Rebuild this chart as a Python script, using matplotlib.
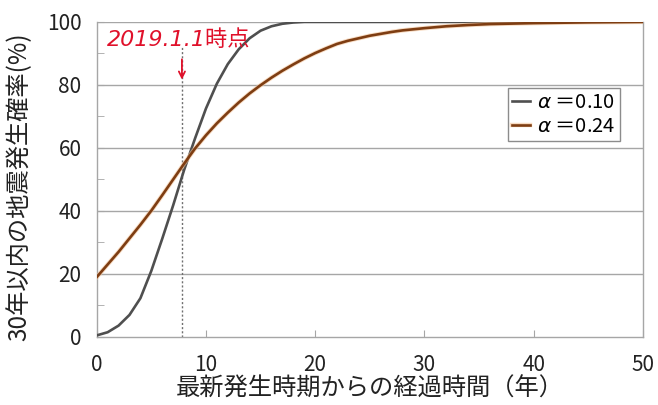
import matplotlib
matplotlib.use("Agg")
import matplotlib.pyplot as plt
import matplotlib.patheffects as pe

plt.rcParams['font.family'] = ['Noto Sans CJK JP', 'DejaVu Sans']
plt.rcParams['mathtext.fontset'] = 'dejavusans'

# --- data ---
years_a = [0, 1, 2, 3, 4, 5, 6, 7, 8, 9, 10, 11, 12, 13, 14, 15, 16, 17, 18, 19, 20, 30, 40, 50]
prob_a010 = [0.5, 1.5, 3.6, 7.0, 12.3, 21.0, 31.2, 41.8, 53, 63, 72.5, 80.4, 86.6, 91.3, 94.8, 97.2,
             98.6, 99.4, 99.8, 100, 100, 100, 100, 100]

years_b = [0, 1, 2, 3, 4, 5, 6, 7, 8, 9, 10, 11, 12, 13, 14, 15, 16, 17, 18, 19, 20,
           21, 22, 23, 24, 25, 26, 27, 28, 30, 32, 34, 36, 40, 45, 50]
prob_a024 = [19, 23, 27, 31.3, 35.6, 40.1, 45, 50, 55, 59.8, 64, 67.8, 71.2, 74.4,
             77.3, 79.9, 82.3, 84.5, 86.5, 88.4, 90.1, 91.6, 93, 94, 94.8, 95.6, 96.2, 96.8,
             97.3, 98, 98.6, 99, 99.3, 99.6, 99.85, 100]

labels = ["$\\alpha$ ＝0.10", "$\\alpha$ ＝0.24"]
now_year = 7.8
now_label = "2019.1.1時点"
xlabel = "最新発生時期からの経過時間（年）"
ylabel = "30年以内の地震発生確率(%)"

fig = plt.figure(figsize=(6.58, 4.05), dpi=100)
ax = fig.add_axes([0.147, 0.168, 0.83, 0.778])

grid_c = '#a6a6a6'
for y in [20, 40, 60, 80, 100]:
    ax.axhline(y, color=grid_c, lw=1.0, zorder=1)

ax.plot(years_a, prob_a010, color='#4f4f4f', lw=1.9, label=labels[0], zorder=3)
ax.plot(years_b, prob_a024, color='#7e3d12', lw=1.9, label=labels[1], zorder=3,
        path_effects=[pe.Stroke(linewidth=3.2, foreground='#f3c49a', alpha=0.6), pe.Normal()])

# dotted vertical line and annotation
ax.plot([now_year, now_year], [0, 92], color='#707070', lw=1.0, ls=(0, (1.5, 1.5)), zorder=2)
ax.annotate('', xy=(now_year, 80.8), xytext=(now_year, 89),
            arrowprops=dict(arrowstyle='->', color='#e0102a', lw=1.3, mutation_scale=11))
ax.text(0.9, 94.3, now_label, color='#e0102a', fontsize=16, style='italic',
        family=['DejaVu Sans', 'Noto Sans CJK JP'], va='center', ha='left')

ax.set_xlim(0, 50)
ax.set_ylim(0, 100)
ax.set_xticks([0, 10, 20, 30, 40, 50])
ax.set_yticks([0, 20, 40, 60, 80, 100])
ax.set_yticks([10, 30, 50, 70, 90], minor=True)
ax.tick_params(axis='both', which='both', direction='in', color=grid_c, labelsize=15,
               labelcolor='#222222', length=5)
ax.tick_params(axis='y', pad=11)
ax.tick_params(axis='x', pad=12)

for s in ['left', 'bottom', 'right']:
    ax.spines[s].set_color(grid_c)
    ax.spines[s].set_linewidth(1.0)
ax.spines['top'].set_visible(False)

ax.set_xlabel(xlabel, fontsize=17.5, color='#222222', labelpad=0)
ax.set_ylabel(ylabel, fontsize=17.5, color='#222222')
ax.yaxis.set_label_coords(-0.118, 0.476)

leg = ax.legend(loc='upper left', bbox_to_anchor=(0.753, 0.79), fontsize=14.5, frameon=True,
                fancybox=False, edgecolor='#707070', handlelength=0.9, handletextpad=0.35,
                borderpad=0.2, labelspacing=0.15, borderaxespad=0)
leg.get_frame().set_linewidth(1.0)

fig.savefig('out.png', dpi=100)
